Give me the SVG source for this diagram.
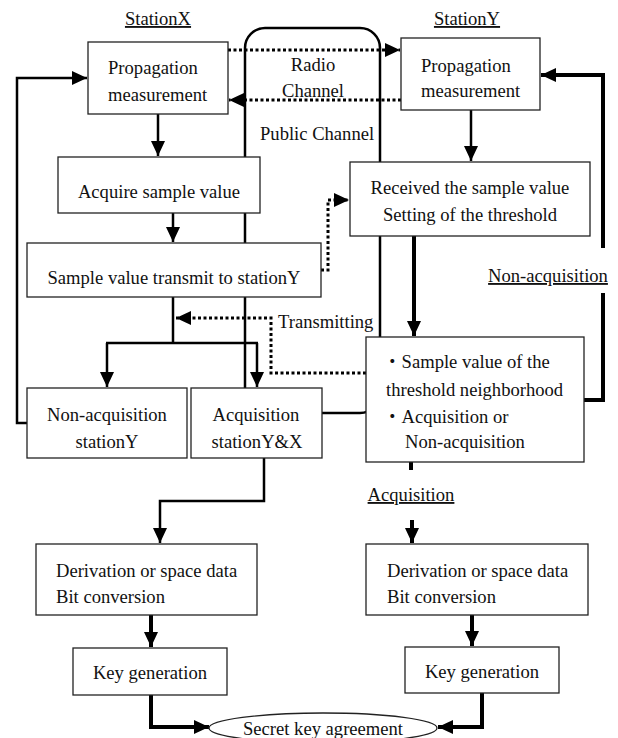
<svg xmlns="http://www.w3.org/2000/svg" width="618" height="738" viewBox="0 0 618 738">
<style>
text{font-family:"Liberation Serif","Times New Roman","Noto Sans CJK JP",serif;font-size:18.6px;fill:#111}
.c{text-anchor:middle}
.u{text-decoration:underline}
.box{fill:#fff;stroke:#222;stroke-width:1.3}
.ln{fill:none;stroke:#000;stroke-width:2.5}
.tk{fill:none;stroke:#000;stroke-width:4}
.dt{fill:none;stroke:#000;stroke-width:3;stroke-dasharray:3 2.5}
.pc{fill:none;stroke:#000;stroke-width:2.5}
</style>
<defs>
<marker id="ah" markerUnits="userSpaceOnUse" markerWidth="16" markerHeight="14" refX="15" refY="7" orient="auto">
<path d="M0,0 L15,7 L0,14 z" fill="#000"/>
</marker>
</defs>
<rect width="618" height="738" fill="#fff"/>
<g id="connectors">
<rect class="pc" x="245" y="28" width="135" height="385" rx="20"/>
<path class="dt" d="M228,50 H400" marker-end="url(#ah)"/>
<path class="dt" d="M401,100 H229" marker-end="url(#ah)"/>
<path class="ln" d="M27,423 H17 V78 H87" marker-end="url(#ah)"/>
<path class="ln" d="M158,114 V156" marker-end="url(#ah)"/>
<path class="ln" d="M173,213 V242" marker-end="url(#ah)"/>
<path class="ln" d="M173,297 V343"/>
<path class="ln" d="M106,343 H258"/>
<path class="ln" d="M107,343 V387" marker-end="url(#ah)"/>
<path class="ln" d="M257,343 V387" marker-end="url(#ah)"/>
<path class="dt" d="M366,373 H271 V318 H176" marker-end="url(#ah)"/>
<path class="dt" d="M321,270 H328 V200 H349" marker-end="url(#ah)"/>
<path class="ln" d="M471,110 V161" marker-end="url(#ah)"/>
<path class="tk" d="M414,236 V336" marker-end="url(#ah)"/>
<path class="tk" d="M584,400 H603 V293"/>
<path class="tk" d="M603,248 V75 H541" marker-end="url(#ah)"/>
<path class="tk" d="M411,462 V470"/>
<path class="tk" d="M412,520 V543" marker-end="url(#ah)"/>
<path class="ln" d="M264,458 V501 H160 V543" marker-end="url(#ah)"/>
<path class="tk" d="M151,615 V647" marker-end="url(#ah)"/>
<path class="tk" d="M472,615 V646" marker-end="url(#ah)"/>
<path class="tk" d="M151,695 V727 H209" marker-end="url(#ah)"/>
<path class="tk" d="M482,693 V727 H438" marker-end="url(#ah)"/>
</g>
<g id="labels">
<text class="c u" x="158" y="25">StationX</text>
<text class="c u" x="467" y="25">StationY</text>
<text class="c" x="313" y="71">Radio</text>
<text class="c" x="313" y="97">Channel</text>
<text x="260" y="140">Public Channel</text>
<text x="278" y="328">Transmitting</text>
<text class="c u" x="548" y="282">Non-acquisition</text>
<text class="c u" x="411" y="501">Acquisition</text>
</g>
<g id="propX">
<rect class="box" x="88" y="42" width="140" height="72"/>
<text x="108" y="74">Propagation</text>
<text x="108" y="101">measurement</text>
</g>
<g id="propY">
<rect class="box" x="401" y="38" width="139" height="72"/>
<text x="421" y="72">Propagation</text>
<text x="421" y="97">measurement</text>
</g>
<g id="acquire">
<rect class="box" x="58" y="157" width="202" height="56"/>
<text class="c" x="159" y="198">Acquire sample value</text>
</g>
<g id="received">
<rect class="box" x="350" y="162" width="240" height="74"/>
<text class="c" x="470" y="194">Received the sample value</text>
<text class="c" x="470" y="221">Setting of the threshold</text>
</g>
<g id="transmit">
<rect class="box" x="27" y="243" width="294" height="54"/>
<text class="c" x="174" y="284">Sample value transmit to stationY</text>
</g>
<g id="threshold">
<rect class="box" x="366" y="337" width="218" height="125"/>
<text x="383" y="368">・Sample value of the</text>
<text x="386" y="396">threshold neighborhood</text>
<text x="383" y="423">・Acquisition or</text>
<text x="405" y="448">Non-acquisition</text>
</g>
<g id="nonacq">
<rect class="box" x="27" y="388" width="160" height="70"/>
<text class="c" x="107" y="421">Non-acquisition</text>
<text class="c" x="107" y="448">stationY</text>
</g>
<g id="acq">
<rect class="box" x="191" y="388" width="131" height="70"/>
<text class="c" x="256" y="421">Acquisition</text>
<text class="c" x="257" y="448">stationY&amp;X</text>
</g>
<g id="derivX">
<rect class="box" x="36" y="544" width="221" height="71"/>
<text x="56" y="577">Derivation or space data</text>
<text x="56" y="603">Bit conversion</text>
</g>
<g id="derivY">
<rect class="box" x="366" y="544" width="222" height="71"/>
<text x="387" y="577">Derivation or space data</text>
<text x="387" y="603">Bit conversion</text>
</g>
<g id="keyX">
<rect class="box" x="73" y="648" width="154" height="47"/>
<text class="c" x="150" y="679">Key generation</text>
</g>
<g id="keyY">
<rect class="box" x="405" y="647" width="154" height="46"/>
<text class="c" x="482" y="678">Key generation</text>
</g>
<g id="secret">
<ellipse cx="323" cy="728" rx="114" ry="15" fill="#fff" stroke="#222" stroke-width="1.3"/>
<text class="c" x="323" y="735">Secret key agreement</text>
</g>
</svg>
